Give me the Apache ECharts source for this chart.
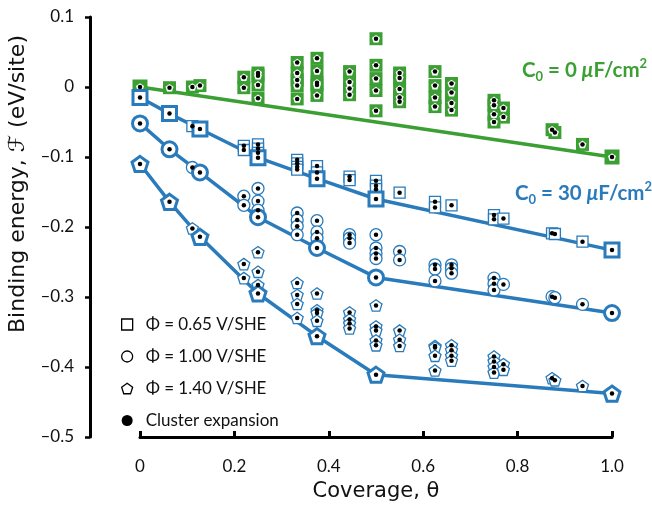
<!DOCTYPE html>
<html>
<head>
<meta charset="utf-8">
<script src="https://cdn.jsdelivr.net/npm/echarts@6/dist/echarts.min.js"></script>
<style>
  html, body { margin: 0; padding: 0; background: #fff; }
  #chart { width: 652px; height: 506px; }
</style>
</head>
<body>
<div id="chart"></div>
<script>
// axis ticks
const xTicks = [0, 0.2, 0.4, 0.6, 0.8, 1.0]
const yTicks = [-0.5, -0.4, -0.3, -0.2, -0.1, 0, 0.1]

// C0 = 0 uF/cm2 (green), [coverage, energy]
const greenPts = [
  [0.0625, -0.001], [0.111, 0.0], [0.127, 0.002],
  [0.22, 0.014], [0.22, -0.001],
  [0.25, 0.020], [0.25, 0.016], [0.25, 0.003], [0.25, -0.016],
  [0.333, 0.035], [0.333, 0.020], [0.333, 0.010], [0.333, 0.002], [0.333, -0.017],
  [0.375, 0.041], [0.375, 0.023], [0.375, 0.006], [0.375, 0.003], [0.375, -0.012],
  [0.444, 0.022], [0.444, 0.007], [0.444, -0.002], [0.444, -0.011],
  [0.5, 0.069], [0.5, 0.031], [0.5, 0.012], [0.5, -0.005], [0.5, -0.034],
  [0.55, 0.020], [0.55, 0.013], [0.55, -0.003], [0.55, -0.015], [0.55, -0.021],
  [0.625, 0.022], [0.625, 0.002], [0.625, -0.015], [0.625, -0.028],
  [0.66, 0.005], [0.66, -0.008], [0.66, -0.023], [0.66, -0.033],
  [0.75, -0.019], [0.75, -0.026], [0.75, -0.039], [0.75, -0.050],
  [0.77, -0.030], [0.77, -0.043],
  [0.873, -0.061], [0.879, -0.065], [0.9375, -0.082]
]
const greenHull = [[0, 0], [1, -0.1]]

// C0 = 30 uF/cm2, phi = 0.65 V/SHE (squares)
const sqPts = [
  [0.111, -0.056],
  [0.22, -0.084], [0.22, -0.090],
  [0.25, -0.082], [0.25, -0.088], [0.25, -0.094],
  [0.333, -0.104], [0.333, -0.109], [0.333, -0.114], [0.333, -0.118],
  [0.375, -0.113], [0.375, -0.122],
  [0.444, -0.128], [0.444, -0.133],
  [0.5, -0.134], [0.5, -0.141], [0.5, -0.146],
  [0.55, -0.151],
  [0.625, -0.164], [0.625, -0.172],
  [0.66, -0.169],
  [0.75, -0.183], [0.75, -0.189], [0.77, -0.188],
  [0.873, -0.209], [0.879, -0.210], [0.9375, -0.221]
]
const sqHull = [[0, -0.015], [0.0625, -0.038], [0.127, -0.060], [0.25, -0.101], [0.375, -0.131], [0.5, -0.160], [1, -0.233]]

// phi = 1.00 V/SHE (circles)
const ciPts = [
  [0.111, -0.115],
  [0.22, -0.156], [0.22, -0.169],
  [0.25, -0.145], [0.25, -0.163], [0.25, -0.176],
  [0.333, -0.180], [0.333, -0.190], [0.333, -0.199], [0.333, -0.211],
  [0.375, -0.191], [0.375, -0.207], [0.375, -0.216],
  [0.444, -0.211], [0.444, -0.216], [0.444, -0.223],
  [0.5, -0.211], [0.5, -0.230], [0.5, -0.238], [0.5, -0.245],
  [0.55, -0.235], [0.55, -0.247],
  [0.625, -0.254], [0.625, -0.260], [0.625, -0.277],
  [0.66, -0.254], [0.66, -0.259], [0.66, -0.266],
  [0.75, -0.273], [0.75, -0.281], [0.75, -0.290], [0.77, -0.282],
  [0.873, -0.2995], [0.879, -0.301], [0.9375, -0.3105]
]
const ciHull = [[0, -0.052], [0.0625, -0.089], [0.127, -0.122], [0.25, -0.186], [0.375, -0.230], [0.5, -0.272], [1, -0.323]]

// phi = 1.40 V/SHE (pentagons)
const pePts = [
  [0.111, -0.202],
  [0.22, -0.253], [0.22, -0.273],
  [0.25, -0.236], [0.25, -0.264], [0.25, -0.283],
  [0.333, -0.280], [0.333, -0.297], [0.333, -0.310], [0.333, -0.330],
  [0.375, -0.295], [0.375, -0.319], [0.375, -0.323], [0.375, -0.334],
  [0.444, -0.322], [0.444, -0.332], [0.444, -0.338], [0.444, -0.345],
  [0.5, -0.312], [0.5, -0.342], [0.5, -0.348], [0.5, -0.362], [0.5, -0.369],
  [0.55, -0.348], [0.55, -0.361], [0.55, -0.370],
  [0.625, -0.370], [0.625, -0.372], [0.625, -0.384], [0.625, -0.405],
  [0.66, -0.369], [0.66, -0.376], [0.66, -0.384], [0.66, -0.391],
  [0.75, -0.385], [0.75, -0.392], [0.75, -0.400], [0.75, -0.408],
  [0.77, -0.396], [0.77, -0.404],
  [0.873, -0.416], [0.879, -0.419], [0.9375, -0.427]
]
const peHull = [[0, -0.110], [0.0625, -0.164], [0.127, -0.214], [0.25, -0.295], [0.375, -0.356], [0.5, -0.411], [1, -0.438]]

const legendNames = ['\u03a6 = 0.65 V/SHE', '\u03a6 = 1.00 V/SHE', '\u03a6 = 1.40 V/SHE', 'Cluster expansion']

const BLUE = '#2a7bbb'
const GREEN = '#3b9f34'
const FONT = 'Lato, sans-serif'
const PENT = 'path://M50,0L97.6,34.5L79.4,90.5L20.6,90.5L2.4,34.5Z'

const chart = echarts.init(document.getElementById('chart'))

function markers(data, symbol, size, width, z) {
  return {
    type: 'scatter', data, symbol, symbolSize: size, symbolKeepAspect: true, z,
    itemStyle: { color: '#fff', borderColor: BLUE, borderWidth: width, opacity: 1 }
  }
}
function hullLine(data, color) {
  return {
    type: 'line', data, symbol: 'none', z: 1, silent: true, clip: false,
    lineStyle: { color, width: 3.5 }
  }
}
// rich text for the C0 labels (zrender text uses fill)
function bigLabel(color) {
  const base = { fontFamily: FONT, fontWeight: 'bold', fill: color }
  return {
    a: Object.assign({ fontSize: 20.5, lineHeight: 26, verticalAlign: 'middle' }, base),
    i: Object.assign({ fontSize: 20.5, lineHeight: 26, verticalAlign: 'middle', fontStyle: 'italic' }, base),
    s: Object.assign({ fontSize: 13, lineHeight: 13, verticalAlign: 'bottom' }, base),
    p: Object.assign({ fontSize: 13, lineHeight: 13, verticalAlign: 'top' }, base)
  }
}

const allPts = [].concat(greenPts, greenHull, sqPts, sqHull, ciPts, ciHull, pePts, peHull)
const greenAll = greenPts.concat(greenHull)

// the x axis line does not show at the grid's bottom edge here, so it is
// also traced with a markLine along y = min, with short ticks at xTicks
const yMin = yTicks[0]
const baseLine = {
  silent: true, symbol: 'none', animation: false,
  label: { show: false },
  lineStyle: { color: '#000', width: 3, type: 'solid' },
  emphasis: { disabled: true },
  data: [[{ coord: [xTicks[0], yMin] }, { coord: [xTicks[xTicks.length - 1], yMin] }]].concat(
    xTicks.map(t => [{ coord: [t, yMin] }, { coord: [t, yMin + 0.0085] }])
  )
}

const greenLine = hullLine(greenHull, GREEN)
greenLine.markLine = baseLine

const option = {
  animation: false,
  grid: { left: 140, right: 40, top: 17, bottom: 69, containLabel: false, outerBoundsMode: 'none' },
  xAxis: {
    type: 'value', position: 'bottom', min: 0, max: 1, interval: 0.2,
    name: 'Coverage, \u03b8', nameLocation: 'middle', nameGap: 44,
    nameTextStyle: { fontFamily: '"DejaVu Sans", sans-serif', fontSize: 21, color: '#111' },
    axisLine: { show: true, onZero: true, onZeroAxisIndex: 1, lineStyle: { color: '#000', width: 3 } },
    axisTick: { show: true, inside: true, length: 6, lineStyle: { color: '#000', width: 2.5 } },
    axisLabel: {
      margin: 21, fontFamily: FONT, fontSize: 17, color: '#111',
      formatter: v => Math.abs(v) < 1e-9 ? '0' : v.toFixed(1)
    },
    splitLine: { show: false }
  },
  yAxis: [
    {
      type: 'value', min: -0.5, max: 0.1, interval: 0.1, offset: 50,
      name: 'Binding energy, \u2131 (eV/site)', nameLocation: 'middle', nameGap: 47,
      nameTextStyle: { fontFamily: '"DejaVu Sans", sans-serif', fontSize: 22, color: '#111', padding: [0, 0, 0, 86] },
      axisLine: { show: true, onZero: false, lineStyle: { color: '#000', width: 3 } },
      axisTick: { show: true, length: 5, lineStyle: { color: '#000', width: 2.5 } },
      axisLabel: {
        margin: 16, fontFamily: FONT, fontSize: 17, color: '#111',
        formatter: v => Math.abs(v) < 1e-9 ? '0' : (v < 0 ? '\u2013' : '') + Math.abs(v).toFixed(1)
      },
      splitLine: { show: false }
    },
    { type: 'value', min: 0, max: 1, show: false, position: 'right' }
  ],
  legend: {
    orient: 'vertical', left: 116, top: 311, itemGap: 15,
    itemWidth: 11, itemHeight: 11,
    textStyle: { fontFamily: FONT, fontSize: 17, color: '#111', padding: [0, 0, 0, 8] },
    data: [
      { name: legendNames[0], icon: 'rect', itemStyle: { color: '#fff', borderColor: '#000', borderWidth: 1.3 } },
      { name: legendNames[1], icon: 'circle', itemStyle: { color: '#fff', borderColor: '#000', borderWidth: 1.3 } },
      { name: legendNames[2], icon: PENT, itemStyle: { color: '#fff', borderColor: '#000', borderWidth: 1.3 } },
      { name: legendNames[3], icon: 'circle', itemStyle: { color: '#000', borderWidth: 0 } }
    ]
  },
  graphic: [
    {
      type: 'text', left: 522, top: 57, z: 100,
      style: { text: '{a|C}{s|0}{a| = 0 }{i|\u03bc}{a|F/cm}{p|2}', rich: bigLabel(GREEN) }
    },
    {
      type: 'text', left: 515, top: 180, z: 100,
      style: { text: '{a|C}{s|0}{a| = 30 }{i|\u03bc}{a|F/cm}{p|2}', rich: bigLabel(BLUE) }
    }
  ],
  series: [
    greenLine,
    hullLine(sqHull, BLUE),
    hullLine(ciHull, BLUE),
    hullLine(peHull, BLUE),
    {
      type: 'scatter', data: greenPts, symbol: 'rect', symbolSize: 13, z: 3,
      itemStyle: { color: GREEN, opacity: 1 }
    },
    {
      type: 'scatter', data: greenHull, symbol: 'rect', symbolSize: 15, z: 3,
      itemStyle: { color: GREEN, opacity: 1 }
    },
    {
      type: 'scatter', data: greenAll, symbol: PENT, symbolSize: 8, symbolKeepAspect: true, z: 3,
      itemStyle: { color: '#fff', opacity: 1 }
    },
    Object.assign(markers(sqPts, 'rect', 11, 1.3, 2), { name: legendNames[0] }),
    Object.assign(markers(ciPts, 'circle', 12, 1.3, 2), { name: legendNames[1] }),
    Object.assign(markers(pePts, PENT, 12, 1.3, 2), { name: legendNames[2] }),
    markers(sqHull, 'rect', 14, 3, 3),
    markers(ciHull, 'circle', 15, 3, 3),
    markers(peHull, PENT, 16, 3, 3),
    {
      name: legendNames[3], type: 'scatter', data: allPts, symbol: 'circle', symbolSize: 4.5, z: 4,
      itemStyle: { color: '#000', opacity: 1 }
    }
  ]
}

chart.setOption(option)
</script>
</body>
</html>
